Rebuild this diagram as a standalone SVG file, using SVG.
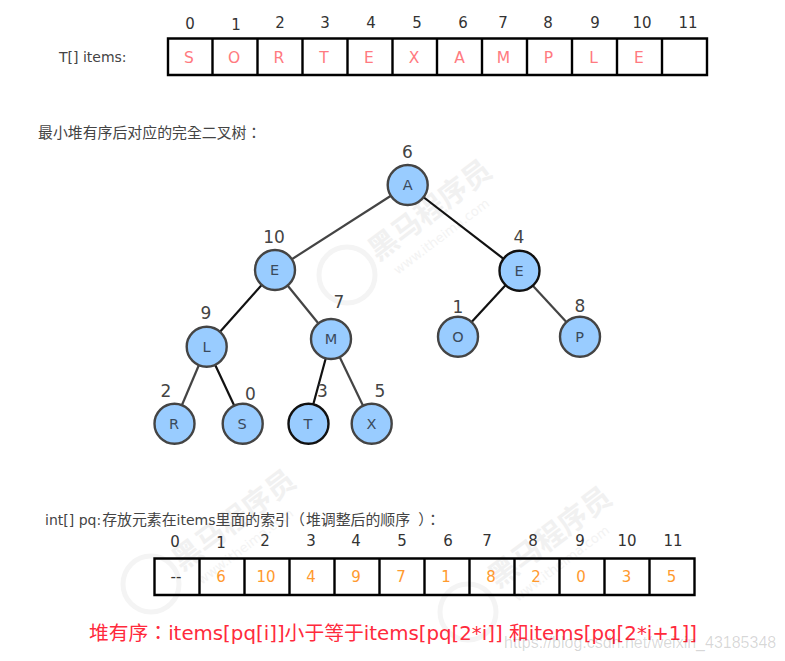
<svg xmlns="http://www.w3.org/2000/svg" width="785" height="661" viewBox="0 0 785 661">
<style>
text{font-family:"DejaVu Sans","Noto Sans CJK SC",sans-serif;text-anchor:middle}
.idx{font-size:15px;fill:#333}
.cell{fill:none;stroke:#000;stroke-width:2.4}
.s{font-size:15.5px;fill:#ff7a80}
.p{font-size:15px;fill:#ff9a2e}
.lab{font-size:14px;fill:#444;text-anchor:start}
.c{font-family:"Noto Sans CJK TC","Noto Sans CJK SC",sans-serif;font-size:14.9px}
.n{font-size:14.5px;fill:#3a4a5c}
.num{font-size:17px;fill:#444}
circle{fill:#99ccff;stroke:#444;stroke-width:2.4}
.k{stroke:#111}
#connectors line{stroke:#444;stroke-width:2.2}
#connectors line.k{stroke:#111}
.wm{fill:#f1f1f1;font-weight:bold;font-size:29px}
.wm2{fill:#f3f3f3;font-size:13px}
.ring{fill:none;stroke:#f4f4f4;stroke-width:5}
</style>
<rect width="785" height="661" fill="#fff"/>
<g id="watermarks">
<circle class="ring" cx="347" cy="275" r="28"/>
<text class="wm" transform="translate(436 218) rotate(-37)">黑马程序员</text>
<text class="wm2" transform="translate(444 240) rotate(-37)">www.itheima.com</text>
<circle class="ring" cx="151" cy="584" r="28"/>
<text class="wm" transform="translate(240 528) rotate(-37)">黑马程序员</text>
<text class="wm2" transform="translate(248 550) rotate(-37)">www.itheima.com</text>
<circle class="ring" cx="468" cy="612" r="28"/>
<text class="wm" transform="translate(556 545) rotate(-37)">黑马程序员</text>
<text class="wm2" transform="translate(564 567) rotate(-37)">www.itheima.com</text>
</g>
<g id="items-array">
<text class="lab" x="59" y="62">T[] items:</text>
<path class="cell" d="M168 38.500H707V75H168ZM212.500 38.500V75M257.500 38.500V75M302.500 38.500V75M347.500 38.500V75M392.500 38.500V75M437 38.500V75M482 38.500V75M527 38.500V75M572 38.500V75M617 38.500V75M662 38.500V75"/>
<text class="idx" x="190" y="29">0</text><text class="idx" x="236" y="30">1</text><text class="idx" x="280" y="28">2</text><text class="idx" x="325" y="28">3</text><text class="idx" x="371" y="28">4</text><text class="idx" x="417" y="28">5</text><text class="idx" x="463" y="28">6</text><text class="idx" x="503" y="28">7</text><text class="idx" x="548" y="28">8</text><text class="idx" x="595" y="28">9</text><text class="idx" x="642" y="28">10</text><text class="idx" x="688" y="28">11</text>
<text class="s" x="189" y="63">S</text><text class="s" x="234" y="63">O</text><text class="s" x="279" y="63">R</text><text class="s" x="324" y="63">T</text><text class="s" x="369" y="63">E</text><text class="s" x="414" y="63">X</text><text class="s" x="459.500" y="63">A</text><text class="s" x="503.500" y="63">M</text><text class="s" x="548.500" y="63">P</text><text class="s" x="593.500" y="63">L</text><text class="s" x="639" y="63">E</text>
</g>
<text class="lab c" x="38" y="138">最小堆有序后对应的完全二叉树：</text>
<g id="connectors">
<line x1="407.700" y1="185" x2="275" y2="270"/>
<line class="k" x1="407.700" y1="185" x2="519" y2="270.700"/>
<line class="k" x1="275" y1="270" x2="206.700" y2="346.700"/>
<line x1="275" y1="270" x2="331" y2="339"/>
<line x1="206.700" y1="346.700" x2="174" y2="423.700"/>
<line class="k" x1="206.700" y1="346.700" x2="242.700" y2="423.700"/>
<line class="k" x1="331" y1="339" x2="308" y2="423.700"/>
<line x1="331" y1="339" x2="371.700" y2="423.700"/>
<line class="k" x1="519" y1="270.700" x2="458" y2="336.700"/>
<line x1="519" y1="270.700" x2="580" y2="336.700"/>
</g>
<g id="node-A"><circle cx="407.700" cy="185" r="20"/><text class="n" x="407.700" y="190">A</text><text class="num" x="407.500" y="158">6</text></g>
<g id="node-E10"><circle cx="275" cy="270" r="20"/><text class="n" x="274.500" y="275">E</text><text class="num" x="274" y="243">10</text></g>
<g id="node-E4"><circle class="k" cx="519.500" cy="270.700" r="20"/><text class="n" x="519" y="275.500">E</text><text class="num" x="519" y="243">4</text></g>
<g id="node-L"><circle cx="206.700" cy="346.700" r="20"/><text class="n" x="206.500" y="351.500">L</text><text class="num" x="206" y="319">9</text></g>
<g id="node-M"><circle cx="331" cy="339" r="20"/><text class="n" x="331" y="344">M</text><text class="num" x="339" y="308">7</text></g>
<g id="node-O"><circle cx="458" cy="336.700" r="20"/><text class="n" x="458" y="341.500">O</text><text class="num" x="458" y="313">1</text></g>
<g id="node-P"><circle cx="580" cy="336.700" r="20"/><text class="n" x="579.500" y="341.500">P</text><text class="num" x="580" y="312">8</text></g>
<g id="node-R"><circle cx="174.500" cy="423.700" r="20"/><text class="n" x="174" y="428.500">R</text><text class="num" x="166" y="397">2</text></g>
<g id="node-S"><circle cx="242.700" cy="423.700" r="20"/><text class="n" x="242" y="428.500">S</text><text class="num" x="250.500" y="400">0</text></g>
<g id="node-T"><circle class="k" cx="308.500" cy="423.700" r="20"/><text class="n" x="308" y="428.500">T</text><text class="num" x="322.500" y="397">3</text></g>
<g id="node-X"><circle cx="371.700" cy="423.700" r="20"/><text class="n" x="371.500" y="428.500">X</text><text class="num" x="380" y="397">5</text></g>
<g id="pq-array">
<text class="lab" x="45" y="525">int[] pq:<tspan class="c" dx="1">存放元素在</tspan>items<tspan class="c">里面的索引（</tspan><tspan class="c" dx="1">堆调整后的顺序</tspan><tspan class="c" dx="8">）：</tspan></text>
<path class="cell" d="M154.500 558.500H694.500V595H154.500ZM199.500 558.500V595M244.500 558.500V595M289.500 558.500V595M334.500 558.500V595M379.500 558.500V595M424.500 558.500V595M469.500 558.500V595M514.500 558.500V595M559.500 558.500V595M604.500 558.500V595M649.500 558.500V595"/>
<text class="idx" x="175" y="547">0</text><text class="idx" x="221" y="548">1</text><text class="idx" x="265" y="546">2</text><text class="idx" x="311" y="546">3</text><text class="idx" x="356" y="546">4</text><text class="idx" x="402" y="546">5</text><text class="idx" x="448" y="546">6</text><text class="idx" x="487" y="546">7</text><text class="idx" x="533" y="546">8</text><text class="idx" x="580" y="546">9</text><text class="idx" x="627" y="546">10</text><text class="idx" x="673" y="546">11</text>
<text class="idx" x="176" y="582">--</text>
<text class="p" x="221" y="582">6</text><text class="p" x="266" y="582">10</text><text class="p" x="311" y="582">4</text><text class="p" x="356" y="582">9</text><text class="p" x="401" y="582">7</text><text class="p" x="446" y="582">1</text><text class="p" x="491" y="582">8</text><text class="p" x="536" y="582">2</text><text class="p" x="581" y="582">0</text><text class="p" x="626.500" y="582">3</text><text class="p" x="671.500" y="582">5</text>
</g>
<text x="89" y="640" style="text-anchor:start;font-family:'DejaVu Sans','Noto Sans CJK TC',sans-serif;font-size:19.800px;fill:#ff2a3c">堆有序：items[pq[i]]小于等于items[pq[2*i]] 和items[pq[2*i+1]]</text>
<text x="504" y="648" style="text-anchor:start;font-family:'Liberation Sans',sans-serif;font-size:16px;fill:#000;fill-opacity:.16">https://blog.csdn.net/weixin_43185348</text>
</svg>
